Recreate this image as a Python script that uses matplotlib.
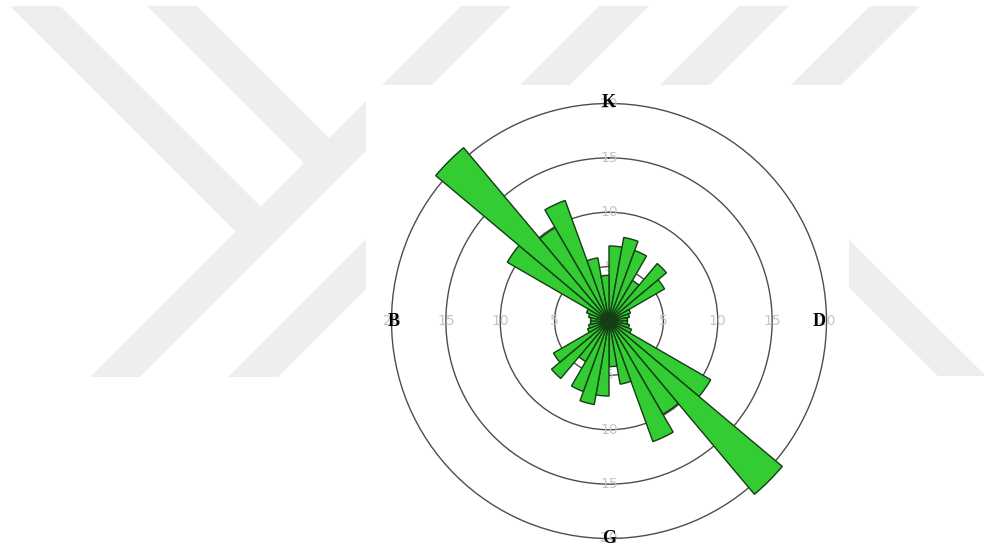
import numpy as np
import matplotlib
matplotlib.use("Agg")
import matplotlib.pyplot as plt
from matplotlib.patches import Polygon, Rectangle

# Yön sınıfları (10° aralık merkezleri) ve frekanslar (%)
directions = [5, 15, 25, 35, 45, 55, 65, 75, 85,
              95, 105, 115, 125, 135, 145, 155, 165, 175,
              185, 195, 205, 215, 225, 235, 245, 255, 265,
              275, 285, 295, 305, 315, 325, 335, 345, 355]
frequency = [6.9, 7.8, 6.9, 4.3, 6.9, 5.9, 2.1, 1.9, 1.7,
             1.7, 1.9, 2.2, 10.8, 20.8, 9.9, 11.8, 5.9, 4.2,
             6.9, 7.8, 6.9, 4.3, 6.9, 5.9, 2.1, 1.9, 1.7,
             1.7, 1.9, 2.2, 10.8, 20.8, 9.9, 11.8, 5.9, 4.2]
rings = [5, 10, 15, 20]
compass = {"K": 0, "D": 90, "G": 180, "B": 270}

fig = plt.figure(figsize=(9.84, 5.54), dpi=100)

# arka plandaki filigran
bg = fig.add_axes([0, 0, 1, 1])
bg.set_xlim(0, 984)
bg.set_ylim(554, 0)
bg.axis("off")
bg.set_zorder(0)
grey = "#eeeeee"
shapes = [
    [(10, 6), (60, 6), (285.5, 231.5), (235.5, 231.5)],
    [(147, 6), (197, 6), (354, 163), (304, 163)],
    [(90, 377), (140, 377), (511, 6), (461, 6)],
    [(228, 377), (278, 377), (649, 6), (599, 6)],
    [(368, 377), (418, 377), (789, 6), (739, 6)],
    [(499, 377), (549, 377), (920, 6), (870, 6)],
    [(711, 150), (759, 150), (986, 376), (938, 376)],
]
for s in shapes:
    bg.add_patch(Polygon(s, closed=True, facecolor=grey, edgecolor="none"))
bg.add_patch(Rectangle((366, 85), 483, 470, facecolor="white", edgecolor="none"))

# gül diyagramı
rmax = 22
cx, cy, r20 = 609, 321, 217.5
rad = r20 / 20 * rmax
w, h = 2 * rad / 984, 2 * rad / 554
ax = fig.add_axes([cx / 984 - w / 2, 1 - cy / 554 - h / 2, w, h], projection="polar")
ax.set_zorder(1)
ax.set_facecolor("none")
ax.set_theta_zero_location("N")
ax.set_theta_direction(-1)
ax.set_ylim(0, rmax)
ax.set_yticks(rings)
ax.set_yticklabels([])
ax.set_xticks([])
ax.spines["polar"].set_visible(False)
ax.grid(axis="y", color="#4d4d4d", linewidth=1.0)
ax.set_axisbelow(True)

ax.bar(np.deg2rad(directions), frequency, width=np.deg2rad(10), bottom=0,
       color="#33cc33", edgecolor="#143d14", linewidth=1.0, zorder=1)

for ang in [0, 90, 180, 270]:
    for r in rings:
        ax.text(np.deg2rad(ang), r, str(r), ha="center", va="center",
                fontsize=10, color="#c4c4c4", zorder=0.9)

offsets = {"K": 20.1, "D": 19.3, "G": 20.0, "B": 19.8}
for lab, ang in compass.items():
    ax.text(np.deg2rad(ang), offsets[lab], lab, ha="center", va="center",
            fontsize=13, fontweight="bold", family="Liberation Serif",
            color="black", zorder=5)

plt.savefig("out.png", dpi=100)
